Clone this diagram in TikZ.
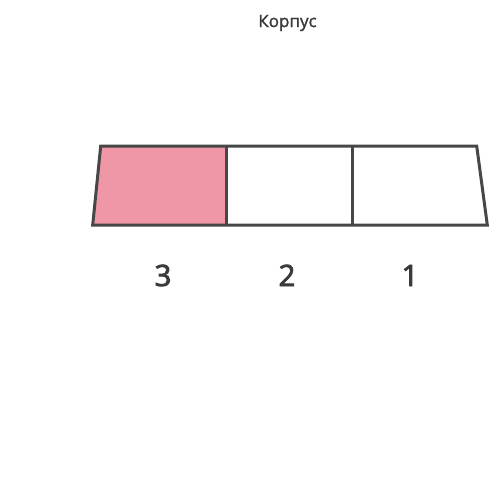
\documentclass[tikz,border=0pt]{standalone}
\usepackage{fontspec}
\setmainfont{Open Sans}
\newfontfamily\numfont[FakeBold=2.6]{Open Sans}
\newfontfamily\ttlfont[FakeBold=1.4]{Open Sans}
\definecolor{edge}{HTML}{474747}
\definecolor{pinkfill}{HTML}{EF97A6}
\definecolor{txt}{HTML}{3A3A3A}
\begin{document}
\begin{tikzpicture}[x=1pt,y=-1pt,
  seg/.style={draw=edge,line width=3pt,line join=miter},
  num/.style={text=txt,font=\numfont\fontsize{29.5}{29.5}\selectfont,inner sep=0pt,anchor=base},
  ttl/.style={text=txt,font=\ttlfont\fontsize{17}{17}\selectfont,inner sep=0pt}]
\useasboundingbox[fill=white] (0,0) rectangle (500,499);
\coordinate (tl) at (100.7,146);
\coordinate (bl) at (92.7,225);
\coordinate (t1) at (226,146);
\coordinate (b1) at (226,225);
\coordinate (t2) at (352.7,146);
\coordinate (b2) at (352.7,225);
\coordinate (tr) at (476.7,146);
\coordinate (br) at (487.3,225);
\fill[pinkfill] (tl) -- (t1) -- (b1) -- (bl) -- cycle;
\draw[seg] (tl) -- (tr) -- (br) -- (bl) -- cycle;
\draw[seg] (t1) -- (b1);
\draw[seg] (t2) -- (b2);
\node[ttl] (title) at (287.5,23) {Корпус};
\node[num] (n3) at (163,286) {3};
\node[num] (n2) at (287,286) {2};
\node[num] (n1) at (410,286) {1};
\end{tikzpicture}
\end{document}
